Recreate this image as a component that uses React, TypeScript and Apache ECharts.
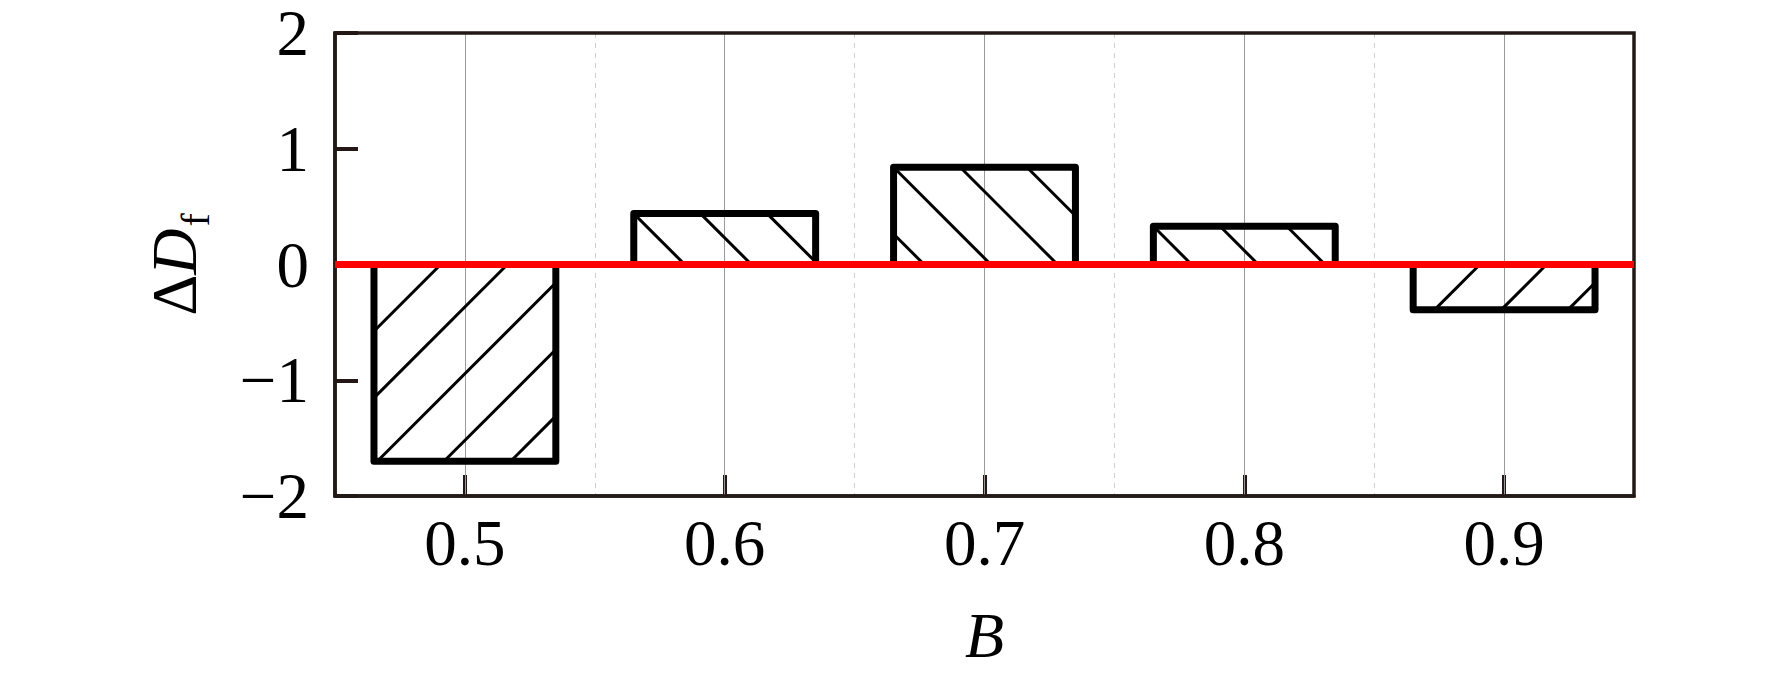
import React, { useEffect, useRef } from "react";
import * as echarts from "echarts";

const categories = ["0.5", "0.6", "0.7", "0.8", "0.9"];
const deltaDf = [-1.7, 0.44, 0.84, 0.33, -0.39];
const yMin = -2;
const yMax = 2;
const yInterval = 1;

const FONT = "Liberation Serif";
const AXIS_COLOR = "#231815";

function hatchLines(x0: number, y0: number, x1: number, y1: number, positive: boolean) {
  const s = 66.7;
  const w = x1 - x0;
  const h = y1 - y0;
  const out: any[] = [];
  const style = { stroke: "#000", lineWidth: 3 };
  if (positive) {
    const kStart = Math.ceil(-h / s);
    const kEnd = Math.floor(w / s);
    for (let k = kStart; k <= kEnd; k++) {
      const t = x0 + k * s;
      const sx = Math.max(x0, t);
      const ex = Math.min(x1, t + h);
      if (ex <= sx) continue;
      out.push({
        type: "line",
        shape: { x1: sx, y1: y0 + (sx - t), x2: ex, y2: y0 + (ex - t) },
        style,
      });
    }
  } else {
    const kEnd = Math.floor((w + h) / s);
    for (let k = 0; k <= kEnd; k++) {
      const t = x0 + k * s;
      const sx = Math.min(t, x1);
      const ex = Math.max(x0, t - h);
      if (sx <= ex) continue;
      out.push({
        type: "line",
        shape: { x1: sx, y1: y0 + (t - sx), x2: ex, y2: y0 + (t - ex) },
        style,
      });
    }
  }
  return out;
}

export default function App() {
  const ref = useRef<HTMLDivElement>(null);
  useEffect(() => {
    document.body.style.margin = "0";
    if (!ref.current) return;
    const chart = echarts.init(ref.current, null, { renderer: "svg" });
    const option: any = {
      animation: false,
      backgroundColor: "#fff",
      textStyle: { fontFamily: FONT },
      grid: {
        left: 335,
        right: 138,
        top: 33,
        bottom: 184,
        show: true,
        z: 4,
        borderColor: AXIS_COLOR,
        borderWidth: 3.5,
        backgroundColor: "transparent",
      },
      xAxis: {
        type: "category",
        data: categories,
        boundaryGap: true,
        axisLine: { show: true, onZero: false, lineStyle: { color: AXIS_COLOR, width: 3.5 } },
        axisTick: {
          show: true,
          inside: true,
          alignWithLabel: true,
          length: 21,
          lineStyle: { color: AXIS_COLOR, width: 4 },
        },
        axisLabel: { fontSize: 65, fontFamily: FONT, color: "#000", margin: 14 },
        splitLine: { show: true, lineStyle: { color: "#cfcfcf", width: 1, type: [5, 5] } },
        name: "B",
        nameLocation: "middle",
        nameGap: 107,
        nameTextStyle: { fontSize: 64, fontStyle: "italic", fontFamily: FONT, color: "#000" },
      },
      yAxis: {
        type: "value",
        min: yMin,
        max: yMax,
        interval: yInterval,
        axisLine: { show: true, lineStyle: { color: AXIS_COLOR, width: 3.5 } },
        axisTick: { show: true, inside: true, length: 23, lineStyle: { color: AXIS_COLOR, width: 4 } },
        axisLabel: {
          fontSize: 65,
          lineHeight: 62,
          fontFamily: FONT,
          color: "#000",
          margin: 26,
          formatter: (v: number) => (v < 0 ? "\u2212" + Math.abs(v) : String(v)),
        },
        splitLine: { show: false },
        name: "{a|\u0394}{b|D}{c|f}",
        nameLocation: "middle",
        nameRotate: 90,
        nameGap: 120,
        nameTextStyle: {
          fontFamily: FONT,
          color: "#000",
          rich: {
            a: { fontSize: 64, fontFamily: FONT, color: "#000", lineHeight: 64, verticalAlign: "top" },
            b: { fontSize: 64, fontFamily: FONT, fontStyle: "italic", color: "#000", lineHeight: 64, verticalAlign: "top" },
            c: { fontSize: 40, fontFamily: FONT, color: "#000", padding: [33, 0, 0, 2], verticalAlign: "top" },
          },
        },
      },
      series: [
        {
          type: "custom",
          name: "ΔDf",
          z: 3,
          data: deltaDf.map((v, i) => [i, v]),
          encode: { x: 0, y: 1 },
          renderItem: (params: any, api: any) => {
            const idx = api.value(0);
            const val = api.value(1);
            const c = api.coord([idx, val]);
            const z0 = api.coord([idx, 0]);
            const bw = api.size([1, 0])[0] * 0.7;
            const x0 = c[0] - bw / 2;
            const x1 = c[0] + bw / 2;
            const y0 = Math.min(c[1], z0[1]);
            const y1 = Math.max(c[1], z0[1]);
            const lines = hatchLines(x0, y0, x1, y1, val >= 0);
            return {
              type: "group",
              children: [
                ...lines,
                {
                  type: "rect",
                  shape: { x: x0, y: y0, width: x1 - x0, height: y1 - y0 },
                  style: { fill: "none", stroke: "#000", lineWidth: 7, lineJoin: "round" },
                },
              ],
            };
          },
          markLine: {
            silent: true,
            z: 1,
            symbol: ["none", "none"],
            label: { show: false },
            lineStyle: { color: "#9a9a9a", width: 1, type: "solid" },
            data: categories.map((c) => ({ xAxis: c })),
          },
        },
        {
          type: "line",
          name: "zero",
          z: 10,
          data: [],
          markLine: {
            silent: true,
            z: 10,
            symbol: ["none", "none"],
            label: { show: false },
            lineStyle: { color: "#ff0000", width: 7, type: "solid" },
            data: [{ yAxis: 0 }],
          },
        },
      ],
    };
    chart.setOption(option);
    return () => chart.dispose();
  }, []);
  return <div ref={ref} style={{ width: "1772px", height: "680px" }} />;
}
